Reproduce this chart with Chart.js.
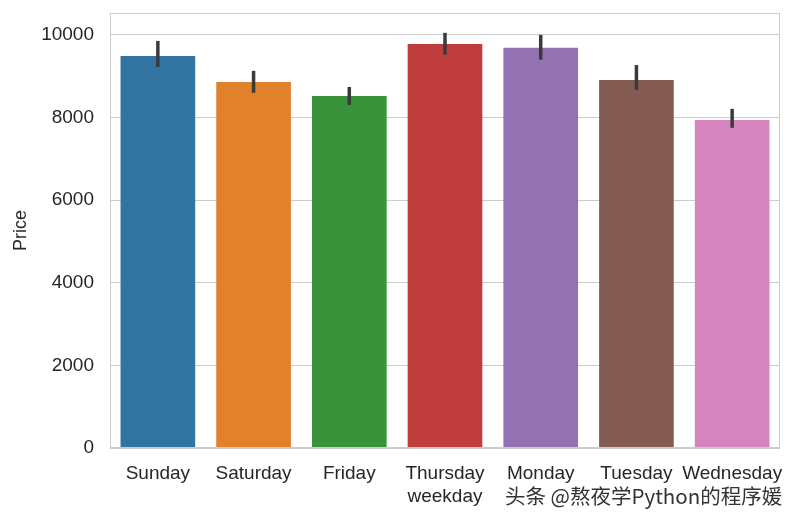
<!DOCTYPE html>
<html>
<head>
<meta charset="utf-8">
<script src="https://cdn.jsdelivr.net/npm/chart.js@4"></script>
<style>
html,body{margin:0;padding:0;background:#fff;}
#wrap{width:798px;height:520px;position:relative;}
</style>
</head>
<body>
<div id="wrap"><canvas id="c" width="798" height="520"></canvas></div>
<script>
const categories = ["Sunday","Saturday","Friday","Thursday","Monday","Tuesday","Wednesday"];
const prices = [9490, 8860, 8520, 9780, 9690, 8910, 7940];
const errLow = [9225, 8600, 8305, 9520, 9400, 8670, 7750];
const errHigh = [9855, 9130, 8740, 10050, 10000, 9270, 8210];
const yTicks = [0, 2000, 4000, 6000, 8000, 10000];
const barColors = ["#3274a1","#e1812c","#3a923a","#c03d3e","#9372b2","#845b53","#d684bd"];
const watermark = "头条 @熬夜学Python的程序媛";

const FONT = "'Liberation Sans', Arial, sans-serif";

const errPlugin = {
  id: 'errbars',
  afterDatasetsDraw(chart) {
    const ctx = chart.ctx;
    const meta = chart.getDatasetMeta(0);
    const y = chart.scales.y;
    ctx.save();
    ctx.strokeStyle = '#3a3a3a';
    ctx.lineWidth = 3.5;
    ctx.lineCap = 'butt';
    meta.data.forEach((bar, i) => {
      ctx.beginPath();
      ctx.moveTo(bar.x, y.getPixelForValue(errLow[i]));
      ctx.lineTo(bar.x, y.getPixelForValue(errHigh[i]));
      ctx.stroke();
    });
    ctx.restore();
  }
};

const framePlugin = {
  id: 'frame',
  afterDraw(chart) {
    const a = chart.chartArea;
    const ctx = chart.ctx;
    ctx.save();
    ctx.strokeStyle = '#cccccc';
    ctx.lineWidth = 1;
    ctx.strokeRect(a.left + 0.5, a.top + 0.5, a.right - a.left - 1, a.bottom - a.top - 1);
    ctx.fillStyle = '#333333';
    ctx.font = "20.5px 'Noto Sans CJK SC', sans-serif";
    ctx.textAlign = 'left';
    ctx.textBaseline = 'middle';
    ctx.fillText(watermark, 505, 496);
    ctx.restore();
  }
};

new Chart(document.getElementById('c'), {
  type: 'bar',
  data: {
    labels: categories,
    datasets: [{
      data: prices,
      backgroundColor: barColors,
      borderWidth: 0,
      barPercentage: 0.78,
      categoryPercentage: 1.0
    }]
  },
  options: {
    responsive: false,
    animation: false,
    devicePixelRatio: 1,
    layout: { padding: { left: 10, right: 18, top: 13, bottom: 0 } },
    plugins: { legend: { display: false }, tooltip: { enabled: false } },
    scales: {
      x: {
        grid: { display: false, drawTicks: false },
        border: { display: false },
        ticks: { color: '#262626', font: { family: FONT, size: 19 }, padding: 14, maxRotation: 0, autoSkip: false },
        title: { display: true, text: 'weekday', color: '#262626', font: { family: FONT, size: 19 }, padding: { top: 2, bottom: 12 } },
        afterFit(s) { s.height = 72; s.paddingLeft = 0; s.paddingRight = 0; }
      },
      y: {
        min: 0,
        max: 10530,
        afterBuildTicks(s) { s.ticks = yTicks.map(v => ({ value: v })); },
        grid: { color: '#cccccc', lineWidth: 1, drawTicks: false },
        border: { display: false },
        ticks: { color: '#262626', font: { family: FONT, size: 19 }, padding: 16, callback: v => String(v) },
        title: { display: true, text: 'Price', color: '#262626', font: { family: FONT, size: 18 }, padding: { top: 0, bottom: 4 } },
        afterFit(s) { s.width = 100; s.paddingTop = 0; s.paddingBottom = 0; }
      }
    }
  },
  plugins: [errPlugin, framePlugin]
});
</script>
</body>
</html>
